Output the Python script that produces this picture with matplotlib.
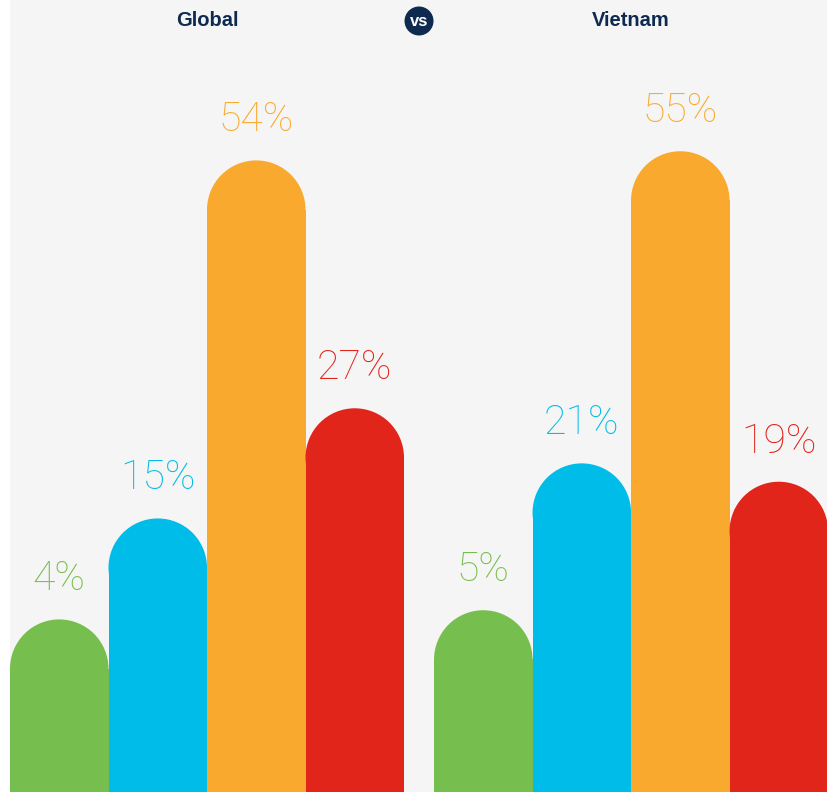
import matplotlib
matplotlib.use("Agg")
import matplotlib.pyplot as plt
from matplotlib.patches import Rectangle, Ellipse

# data
groups = ["Global", "Vietnam"]
global_vals = [4, 15, 54, 27]
vietnam_vals = [5, 21, 55, 19]
colors = ["#76BE4D", "#00BCE8", "#F9A92E", "#E1251B"]
navy = "#0F2A4F"

W, H = 827, 792
fig = plt.figure(figsize=(W / 100, H / 100), dpi=100, facecolor="white")
ax = fig.add_axes([10 / W, 0, (W - 10) / W, 1])
ax.set_facecolor("#f5f5f5")

bar_px = 98.5      # bar width in pixels
py = 9.18          # pixels per percentage point
base = -14.8       # bars start below zero
gap = 0.305        # gap between groups (bar units)

ax.set_xlim(-0.5, -0.5 + (W - 10) / bar_px)
ax.set_ylim(base, base + H / py)
ry = (bar_px / 2) / py   # cap radius in y units

label_font = dict(family=["Roboto", "DejaVu Sans"], fontweight="light", fontsize=29.5)

for g, vals in enumerate([global_vals, vietnam_vals]):
    off = g * (4 + gap)
    for i, (v, c) in enumerate(zip(vals, colors)):
        x = off + i
        ax.add_patch(Rectangle((x - 0.5, base), 1, v - ry - base, color=c, lw=0))
        ax.add_patch(Ellipse((x, v - ry), 1, 2 * ry, color=c, lw=0))
        ax.annotate(f"{v}%", (x, v), xytext=(0, 21), textcoords="offset points",
                    ha="center", va="baseline", color=c, **label_font)
    ax.text(off + 1.5, base + (H - 20) / py, groups[g], ha="center", va="center",
            fontsize=14.5, fontweight="bold", color=navy,
            family=["Liberation Sans Narrow", "Liberation Sans", "DejaVu Sans"])

# "vs" badge between the two titles
vx = 3.5 + gap / 2
vy = base + (H - 21) / py
ax.add_patch(Ellipse((vx, vy), 29 / bar_px, 29 / py, color=navy, lw=0))
ax.text(vx, vy, "vs", ha="center", va="center", color="white", fontsize=12,
        fontweight="bold", family=["Liberation Sans", "DejaVu Sans"])

ax.set_xticks([])
ax.set_yticks([])
for s in ax.spines.values():
    s.set_visible(False)

fig.savefig("out.png", dpi=100, facecolor="white")
